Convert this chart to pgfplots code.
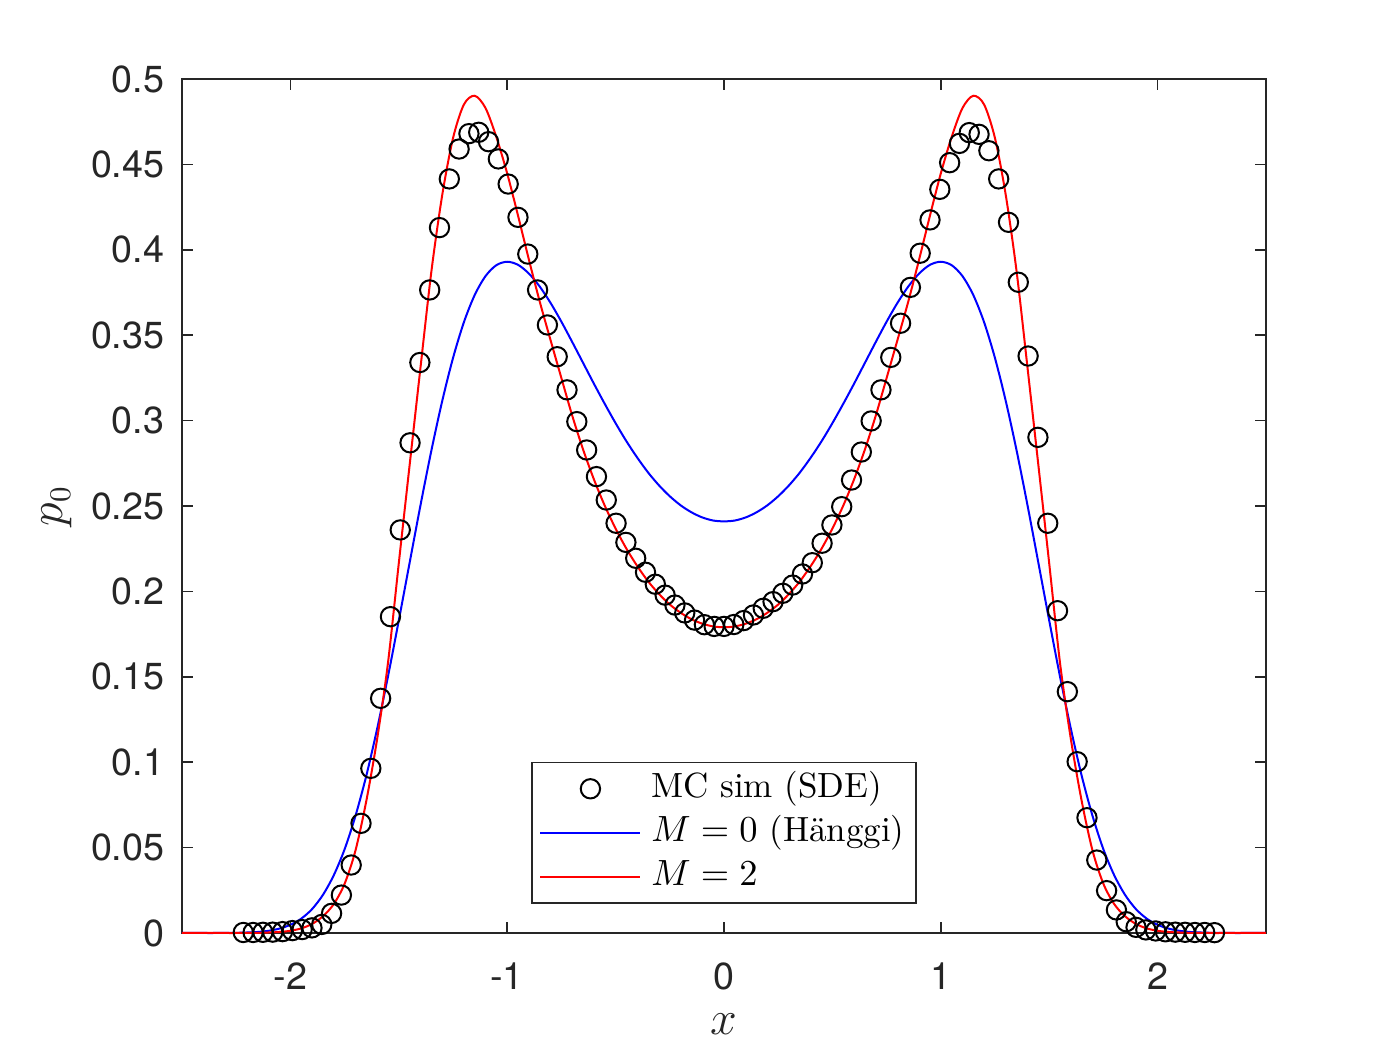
\documentclass[border=0pt]{standalone}
\usepackage{fontspec}
\usepackage{pgfplots}
\usepackage{pgfplotstable}
\pgfplotsset{compat=1.18}
\newfontfamily\ticksans{TeX Gyre Heros}
\definecolor{axgray}{rgb}{0.15,0.15,0.15}
\pgfplotsset{
  linelegend/.style={legend image code/.code={\path[draw=none,fill=none] (-2.1pt,0pt) -- (30pt,0pt);
    \draw[##1] (0pt,0pt) -- (30pt,0pt);}},
  markonlylegend/.style={legend image code/.code={\path[draw=none,fill=none] (-2.1pt,0pt) -- (30pt,0pt);
    \draw[black, line width=0.6pt] (15pt,0pt) circle[radius=2.9pt];}},
}

\pgfplotstableread{
x y
-2.2173 0.0003
-2.1720 0.0003
-2.1268 0.0004
-2.0815 0.0005
-2.0363 0.0008
-1.9910 0.0014
-1.9458 0.0020
-1.9005 0.0030
-1.8553 0.0050
-1.8100 0.0115
-1.7648 0.0222
-1.7195 0.0398
-1.6743 0.0642
-1.6290 0.0964
-1.5838 0.1374
-1.5385 0.1852
-1.4933 0.2360
-1.4480 0.2870
-1.4028 0.3340
-1.3575 0.3765
-1.3123 0.4130
-1.2670 0.4415
-1.2218 0.4590
-1.1765 0.4680
-1.1313 0.4688
-1.0860 0.4633
-1.0408 0.4532
-0.9955 0.4385
-0.9503 0.4190
-0.9050 0.3975
-0.8598 0.3765
-0.8145 0.3560
-0.7693 0.3374
-0.7240 0.3180
-0.6788 0.2994
-0.6335 0.2828
-0.5883 0.2672
-0.5430 0.2535
-0.4978 0.2399
-0.4525 0.2287
-0.4073 0.2194
-0.3620 0.2112
-0.3168 0.2042
-0.2715 0.1978
-0.2263 0.1920
-0.1810 0.1874
-0.1358 0.1832
-0.0905 0.1805
-0.0453 0.1795
0.0000 0.1795
0.0453 0.1806
0.0905 0.1829
0.1358 0.1862
0.1810 0.1901
0.2263 0.1940
0.2715 0.1989
0.3168 0.2037
0.3620 0.2102
0.4073 0.2168
0.4525 0.2282
0.4978 0.2389
0.5430 0.2496
0.5883 0.2652
0.6335 0.2816
0.6788 0.2998
0.7240 0.3180
0.7693 0.3370
0.8145 0.3570
0.8598 0.3780
0.9050 0.3980
0.9503 0.4175
0.9955 0.4354
1.0408 0.4510
1.0860 0.4623
1.1313 0.4686
1.1765 0.4676
1.2218 0.4580
1.2670 0.4415
1.3123 0.4161
1.3575 0.3810
1.4028 0.3378
1.4480 0.2902
1.4933 0.2399
1.5385 0.1887
1.5838 0.1413
1.6290 0.1003
1.6743 0.0675
1.7195 0.0427
1.7648 0.0248
1.8100 0.0135
1.8553 0.0066
1.9005 0.0033
1.9458 0.0018
1.9910 0.0012
2.0363 0.0007
2.0815 0.0005
2.1268 0.0004
2.1720 0.0003
2.2173 0.0003
2.2625 0.0002
}\mcdata

\pgfplotstableread{
x mzero mtwo
-2.50 0.0000 0.0000
-2.45 0.0000 0.0000
-2.40 0.0000 0.0000
-2.35 0.0000 0.0000
-2.30 0.0001 0.0000
-2.25 0.0001 0.0000
-2.20 0.0003 0.0001
-2.15 0.0006 0.0001
-2.10 0.0013 0.0003
-2.05 0.0026 0.0006
-2.00 0.0048 0.0013
-1.95 0.0084 0.0027
-1.90 0.0140 0.0053
-1.85 0.0223 0.0098
-1.80 0.0338 0.0169
-1.75 0.0490 0.0288
-1.70 0.0685 0.0482
-1.65 0.0920 0.0772
-1.60 0.1195 0.1135
-1.55 0.1501 0.1580
-1.50 0.1830 0.2165
-1.45 0.2168 0.2740
-1.40 0.2504 0.3310
-1.35 0.2823 0.3870
-1.30 0.3113 0.4318
-1.25 0.3366 0.4653
-1.20 0.3575 0.4850
-1.15 0.3735 0.4902
-1.10 0.3846 0.4830
-1.05 0.3910 0.4660
-1.00 0.3930 0.4447
-0.95 0.3912 0.4200
-0.90 0.3861 0.3943
-0.85 0.3785 0.3697
-0.80 0.3689 0.3471
-0.75 0.3579 0.3249
-0.70 0.3460 0.3029
-0.65 0.3338 0.2831
-0.60 0.3216 0.2656
-0.55 0.3098 0.2502
-0.50 0.2985 0.2368
-0.45 0.2879 0.2250
-0.40 0.2783 0.2148
-0.35 0.2696 0.2059
-0.30 0.2621 0.1985
-0.25 0.2557 0.1923
-0.20 0.2504 0.1875
-0.15 0.2463 0.1837
-0.10 0.2433 0.1811
-0.05 0.2415 0.1795
0.00 0.2410 0.1790
0.05 0.2415 0.1795
0.10 0.2433 0.1811
0.15 0.2463 0.1837
0.20 0.2504 0.1875
0.25 0.2557 0.1923
0.30 0.2621 0.1985
0.35 0.2696 0.2059
0.40 0.2783 0.2148
0.45 0.2879 0.2250
0.50 0.2985 0.2368
0.55 0.3098 0.2502
0.60 0.3216 0.2656
0.65 0.3338 0.2831
0.70 0.3460 0.3029
0.75 0.3579 0.3249
0.80 0.3689 0.3471
0.85 0.3785 0.3697
0.90 0.3861 0.3943
0.95 0.3912 0.4200
1.00 0.3930 0.4447
1.05 0.3910 0.4660
1.10 0.3846 0.4830
1.15 0.3735 0.4902
1.20 0.3575 0.4850
1.25 0.3366 0.4653
1.30 0.3113 0.4318
1.35 0.2823 0.3870
1.40 0.2504 0.3310
1.45 0.2168 0.2740
1.50 0.1830 0.2165
1.55 0.1501 0.1580
1.60 0.1195 0.1135
1.65 0.0920 0.0772
1.70 0.0685 0.0482
1.75 0.0490 0.0288
1.80 0.0338 0.0169
1.85 0.0223 0.0098
1.90 0.0140 0.0053
1.95 0.0084 0.0027
2.00 0.0048 0.0013
2.05 0.0026 0.0006
2.10 0.0013 0.0003
2.15 0.0006 0.0001
2.20 0.0003 0.0001
2.25 0.0001 0.0000
2.30 0.0001 0.0000
2.35 0.0000 0.0000
2.40 0.0000 0.0000
2.45 0.0000 0.0000
2.50 0.0000 0.0000
}\curves

\begin{document}
\begin{tikzpicture}
\useasboundingbox (-54.6pt,-35.1pt) rectangle (365.4pt,279.9pt);
\begin{axis}[
  at={(0,0)}, anchor=south west,
  scale only axis, width=325.2pt, height=256.2pt,
  xmin=-2.5, xmax=2.5, ymin=0, ymax=0.5,
  clip=false,
  xtick={-2,-1,0,1,2},
  ytick={0,0.05,0.1,0.15,0.2,0.25,0.3,0.35,0.4,0.45,0.5},
  axis line style={axgray, line width=0.5pt},
  every tick/.style={axgray, line width=0.5pt},
  major tick length=3.3pt,
  tick align=inside,
  /pgf/number format/assume math mode=true,
  yticklabel style={/pgf/number format/fixed, /pgf/number format/precision=2},
  tick label style={font=\fontsize{11.3}{13}\selectfont\ticksans, text=axgray, inner sep=0pt},
  xticklabel style={yshift=-8.6pt},
  yticklabel style={xshift=-5.1pt},
  xlabel={$x$}, ylabel={$p_0$},
  label style={font=\fontsize{13.5}{16}\selectfont, text=axgray},
  xlabel style={at={(axis description cs:0.5,-0.1183)}, anchor=base},
  ylabel style={at={(axis description cs:-0.1098,0.5)}, anchor=base},
  legend cell align=left,
  legend style={at={(axis description cs:0.5,0.034)}, anchor=south,
    draw=axgray, line width=0.5pt, fill=white,
    font=\fontsize{10.5}{12.6}\selectfont,
    inner xsep=0.5pt, inner ysep=1.3pt,
    cells={anchor=west},
    nodes={inner xsep=3pt, inner ysep=1.35pt, text height=7.9pt, text depth=2.6pt}},
]
\addplot[only marks, mark=o, mark size=2.9pt, black, line width=0.6pt, markonlylegend] table[x=x,y=y] {\mcdata};
\addlegendentry{MC sim (SDE)}
\addplot[blue, line width=0.6pt, smooth, linelegend] table[x=x,y=mzero] {\curves};
\addlegendentry{$M=0$ (Hänggi)}
\addplot[red, line width=0.6pt, smooth, linelegend] table[x=x,y=mtwo] {\curves};
\addlegendentry{$M=2$}
\end{axis}
\end{tikzpicture}
\end{document}
